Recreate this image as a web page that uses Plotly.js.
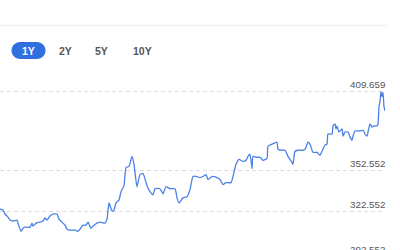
<!DOCTYPE html>
<html>
<head>
<meta charset="utf-8">
<script src="https://cdn.plot.ly/plotly-3.0.1.min.js"></script>
<style>
html,body{margin:0;padding:0;background:#fff;}
#chart{width:400px;height:250px;}
</style>
</head>
<body>
<div id="chart"></div>
<script>
// ---- data ----
const days = [0,3,5,8,10,13,17,18,21,23,25,30,32,33,36,40,43,45,47,50,53,57,59,62,65,67,70,75,78,80,83,86,88,91,93,97,100,105,107,109,112,114,116,119,121,124,126,129,132,134,137,140,143,147,150,153,155,160,163,166,170,175,177,179,183,187,190,193,197,200,203,206,208,212,217,220,223,226,231,233,236,239,243,246,248,250,252,253,256,260,263,267,268,272,277,278,282,285,288,292,293,295,298,302,305,308,310,313,317,320,322,325,327,328,332,333,335,336,337,339,342,343,345,348,350,352,353,355,360,363,365,367,368,370,372,374,377,378,379,380,381,382,383,384,385];
const prices = [324.7,324.0,321.1,318.9,316.7,316.0,316.7,314.5,308.6,310.8,311.6,311.6,314.5,312.3,314.5,315.2,316.0,318.2,316.7,319.6,321.1,321.1,317.4,315.2,313.0,310.1,309.4,309.4,308.6,310.1,313.0,313.0,315.2,310.8,312.3,314.5,315.2,314.5,317.4,329.1,323.3,324.0,329.1,331.3,337.2,341.6,354.7,355.5,362.8,357.0,340.8,349.6,350.4,341.6,337.2,335.0,339.4,339.4,335.7,340.8,339.4,339.4,332.8,329.1,332.8,333.5,338.7,348.2,348.2,347.4,348.2,349.6,346.0,348.2,347.4,346.0,342.3,343.8,343.8,348.2,357.0,360.6,359.1,359.9,362.8,364.3,354.0,362.8,362.1,362.1,359.9,361.3,370.1,371.6,373.0,367.9,367.2,367.2,362.8,358.4,357.0,366.5,367.2,367.2,367.9,373.0,371.6,365.7,365.7,363.5,366.5,370.9,371.6,378.9,378.9,384.8,386.2,382.6,384.8,380.4,382.6,377.4,380.4,380.4,376.7,374.5,377.4,381.1,381.1,381.8,378.9,377.4,380.4,386.2,384.0,384.8,384.8,386.2,398.7,402.3,409.659,406.0,409.0,398.7,395.7];
const tickValues = [292.552, 322.552, 352.552, 409.659];
const tickLabels = ['292.552', '322.552', '352.552', '409.659'];
const rangeButtons = ['1Y', '2Y', '5Y', '10Y'];
const activeButton = '1Y';

// ---- layout helpers (pixel -> paper) ----
const W = 400, H = 250, ML = 0, MR = 15, MT = 60, MB = 0;
const PW = W - ML - MR, PH = H - MT - MB;
const YR = [295.07, 432.46];
const px = x => (x - ML) / PW;
const py = y => (H - MB - y) / PH;
const vy = v => (v - YR[0]) / (YR[1] - YR[0]);

function pill(x0, y0, x1, y1) {
  const r = (y1 - y0) / 2;
  const P = (x, y) => px(x) + ',' + py(y);
  return 'M' + P(x0 + r, y0) + ' L' + P(x1 - r, y0) +
    ' C' + P(x1 - r + r * 0.55, y0) + ' ' + P(x1, y0 + r - r * 0.55) + ' ' + P(x1, y0 + r) +
    ' C' + P(x1, y0 + r + r * 0.55) + ' ' + P(x1 - r + r * 0.55, y1) + ' ' + P(x1 - r, y1) +
    ' L' + P(x0 + r, y1) +
    ' C' + P(x0 + r - r * 0.55, y1) + ' ' + P(x0, y1 - r + r * 0.55) + ' ' + P(x0, y0 + r) +
    ' C' + P(x0, y0 + r - r * 0.55) + ' ' + P(x0 + r - r * 0.55, y0) + ' ' + P(x0 + r, y0) + ' Z';
}

const btnCenters = [28.5, 65.5, 102, 142];

const annotations = tickValues.map((v, i) => ({
  xref: 'paper', yref: 'paper', x: px(387), y: vy(v),
  xanchor: 'right', yanchor: 'bottom', showarrow: false,
  yshift: v < YR[0] ? -4 : 0,
  text: tickLabels[i],
  font: {family: 'Liberation Sans, Arial, sans-serif', size: 9.8, color: '#555'}
})).concat(rangeButtons.map((b, i) => ({
  xref: 'paper', yref: 'paper', x: px(btnCenters[i]), y: py(51),
  xanchor: 'center', yanchor: 'middle', showarrow: false,
  text: '<b>' + b + '</b>',
  font: {family: 'Liberation Sans, Arial, sans-serif', size: 10.5, color: b === activeButton ? '#fff' : '#555'}
})));

const shapes = [
  {type: 'line', xref: 'paper', yref: 'paper', x0: px(0), x1: px(389), y0: py(25.5), y1: py(25.5),
   line: {color: '#f2f2f2', width: 1.5}},
  {type: 'path', xref: 'paper', yref: 'paper', path: pill(11.5, 42, 45.5, 59),
   fillcolor: '#2f6fdf', line: {width: 0}}
];

Plotly.newPlot('chart', [{
  x: days, y: prices, type: 'scatter', mode: 'lines',
  line: {color: '#4a80e8', width: 1.3, shape: 'spline', smoothing: 0.5},
  hoverinfo: 'skip'
}], {
  width: W, height: H,
  margin: {l: ML, r: MR, t: MT, b: MB, pad: 0, autoexpand: false},
  paper_bgcolor: '#fff', plot_bgcolor: '#fff',
  showlegend: false,
  xaxis: {range: [0, 385], visible: false, showgrid: false, zeroline: false, fixedrange: true},
  yaxis: {range: YR, tickvals: tickValues, showticklabels: false,
          showgrid: true, gridcolor: '#dcdcdc', gridwidth: 1, griddash: '4px,3px',
          zeroline: false, showline: false, ticks: '', fixedrange: true},
  annotations: annotations,
  shapes: shapes
}, {displayModeBar: false, staticPlot: true});
</script>
</body>
</html>
